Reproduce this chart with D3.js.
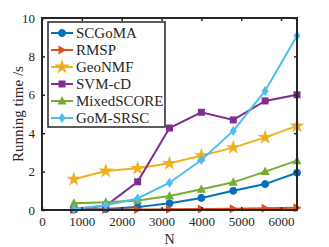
<!DOCTYPE html>
<html>
<head>
<meta charset="utf-8">
<script src="https://cdn.jsdelivr.net/npm/d3@7"></script>
<style>
  body { margin: 0; background: #fff; }
  text { font-family: "Liberation Serif", "Times New Roman", serif; fill: #262626; }
</style>
</head>
<body>
<svg id="chart" width="329" height="247"></svg>
<script>
"use strict";

var nValues = [800, 1600, 2400, 3200, 4000, 4800, 5600, 6400];
var xTicks = [0, 1000, 2000, 3000, 4000, 5000, 6000];
var yTicks = [0, 2, 4, 6, 8, 10];

var scgoma     = [0.02, 0.05, 0.15, 0.35, 0.63, 1.00, 1.35, 1.94];
var rmsp       = [0.01, 0.02, 0.03, 0.04, 0.05, 0.07, 0.09, 0.12];
var geonmf     = [1.60, 2.03, 2.17, 2.43, 2.83, 3.25, 3.78, 4.38];
var svmcd      = [0.05, 0.22, 1.47, 4.27, 5.09, 4.69, 5.68, 6.00];
var mixedscore = [0.35, 0.40, 0.50, 0.73, 1.08, 1.44, 2.00, 2.57];
var gomsrsc    = [0.05, 0.25, 0.60, 1.42, 2.60, 4.12, 6.20, 9.08];

var seriesNames = ["SCGoMA", "RMSP", "GeoNMF", "SVM-cD", "MixedSCORE", "GoM-SRSC"];
var seriesData = [scgoma, rmsp, geonmf, svmcd, mixedscore, gomsrsc];
var colors = ["#0072BD", "#D95319", "#EDB120", "#7E2F8E", "#77AC30", "#4DBEEE"];
var symbols = ["circle", "right", "star", "square", "up", "diamond"];

var svg = d3.select("#chart"),
  margin = {top: 18, right: 32, bottom: 37, left: 42},
  width = 329 - margin.left - margin.right,
  height = 247 - margin.top - margin.bottom,
  g = svg.append("g").attr("transform", "translate(" + margin.left + "," + margin.top + ")"),
  x = d3.scaleLinear().domain([0, 6400]).range([0, width]),
  y = d3.scaleLinear().domain([0, 10]).range([height, 0]);

var axisColor = "#262626";

function marker(sel, type, color) {
  var s;
  if (type === "circle") {
    sel.append("circle").attr("r", 3.5).attr("fill", color).attr("stroke", color);
  } else if (type === "right") {
    sel.append("path").attr("d", "M-3.5,-4.5L4.5,0L-3.5,4.5Z").attr("fill", color);
  } else if (type === "up") {
    sel.append("path").attr("d", "M0,-5L4.5,3.5L-4.5,3.5Z").attr("fill", color);
  } else if (type === "square") {
    sel.append("rect").attr("x", -3.5).attr("y", -3.5).attr("width", 7).attr("height", 7).attr("fill", color);
  } else if (type === "diamond") {
    sel.append("path").attr("d", "M0,-5L3.5,0L0,5L-3.5,0Z").attr("fill", color);
  } else if (type === "star") {
    s = d3.symbol().type(d3.symbolStar).size(70);
    sel.append("path").attr("d", s()).attr("fill", color);
  }
}

// data lines
var line = d3.line().x(function(d, i) { return x(nValues[i]); }).y(function(d) { return y(d); });

seriesData.forEach(function(vals, k) {
  g.append("path")
    .datum(vals)
    .attr("fill", "none")
    .attr("stroke", colors[k])
    .attr("stroke-width", 2)
    .attr("d", line);
  vals.forEach(function(v, i) {
    var m = g.append("g").attr("transform", "translate(" + x(nValues[i]) + "," + y(v) + ")");
    marker(m, symbols[k], colors[k]);
  });
});

// axes with inward ticks, mirrored
g.append("g")
  .attr("transform", "translate(0," + height + ")")
  .call(d3.axisBottom(x).tickValues(xTicks).tickFormat(d3.format("d"))
    .tickSizeInner(-3).tickSizeOuter(0).tickPadding(7));
g.append("g")
  .call(d3.axisLeft(y).tickValues(yTicks).tickSizeInner(-3).tickSizeOuter(0).tickPadding(7));
g.append("g")
  .call(d3.axisTop(x).tickValues(xTicks).tickSizeInner(-3).tickSizeOuter(0).tickFormat(""));
g.append("g")
  .attr("transform", "translate(" + width + ",0)")
  .call(d3.axisRight(y).tickValues(yTicks).tickSizeInner(-3).tickSizeOuter(0).tickFormat(""));

g.selectAll(".domain").remove();
g.selectAll(".tick line").attr("stroke", axisColor).attr("stroke-width", 1.5);
g.selectAll(".tick text")
  .style("font-family", '"Liberation Serif", serif')
  .style("font-size", "13px")
  .attr("fill", axisColor);

g.append("rect")
  .attr("x", 0).attr("y", 0)
  .attr("width", width).attr("height", height)
  .attr("fill", "none")
  .attr("stroke", axisColor)
  .attr("stroke-width", 2);

// axis labels
svg.append("text")
  .attr("x", margin.left + width / 2)
  .attr("y", 244)
  .attr("text-anchor", "middle")
  .style("font-size", "14px")
  .text("N");

svg.append("text")
  .attr("transform", "translate(23," + (margin.top + height / 2) + ") rotate(-90)")
  .attr("text-anchor", "middle")
  .style("font-size", "15px")
  .text("Running time /s");

// legend
var legend = svg.append("g").attr("transform", "translate(48,22)");
legend.append("rect")
  .attr("width", 117).attr("height", 105)
  .attr("fill", "#fff")
  .attr("stroke", axisColor)
  .attr("stroke-width", 1.5);

seriesNames.forEach(function(name, k) {
  var row = legend.append("g").attr("transform", "translate(0," + (11 + k * 17) + ")");
  row.append("line")
    .attr("x1", 3).attr("x2", 25)
    .attr("stroke", colors[k]).attr("stroke-width", 2);
  marker(row.append("g").attr("transform", "translate(14,0)"), symbols[k], colors[k]);
  row.append("text")
    .attr("x", 28).attr("y", 5)
    .style("font-size", "15px")
    .text(name);
});
</script>
</body>
</html>
